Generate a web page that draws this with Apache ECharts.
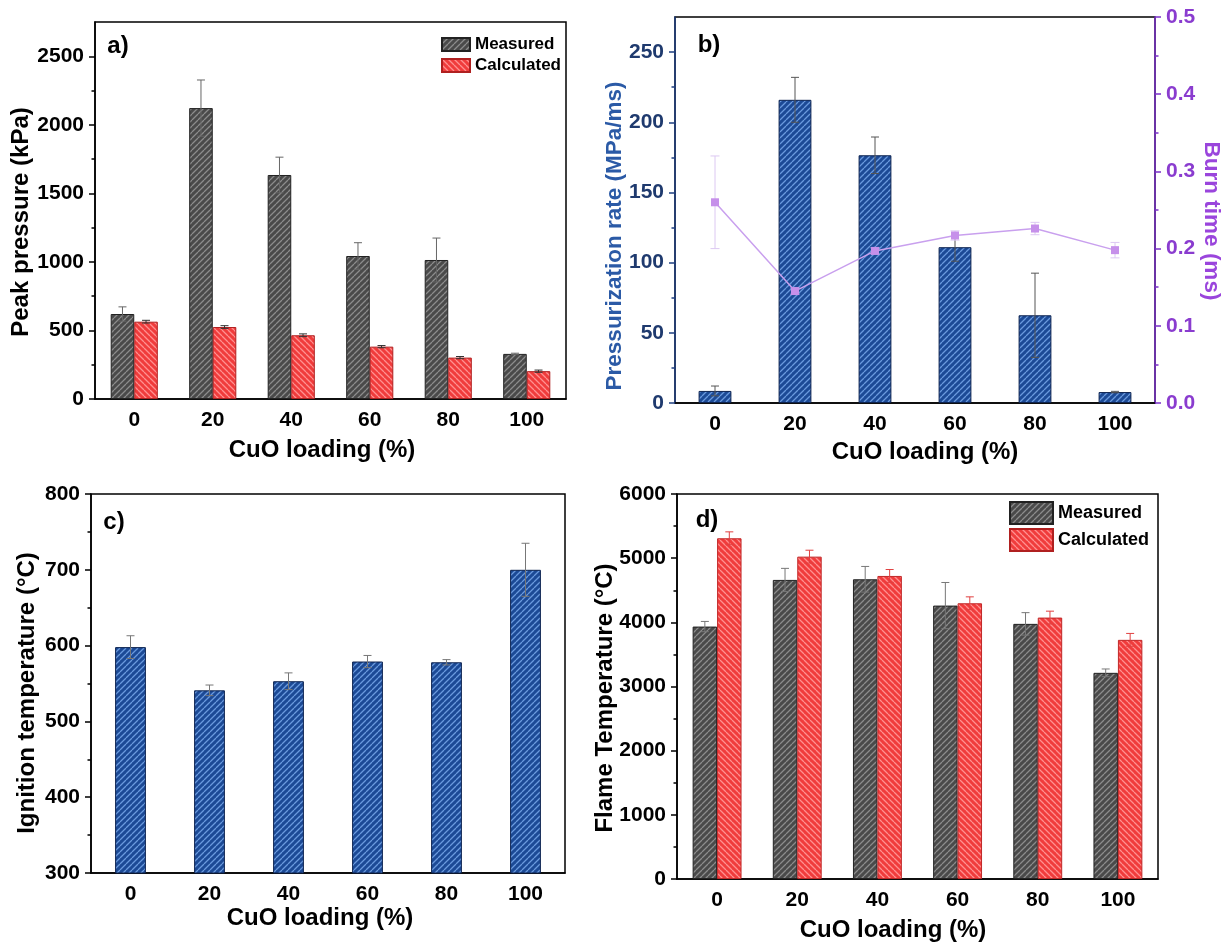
<!DOCTYPE html>
<html><head><meta charset="utf-8">
<script src="https://cdn.jsdelivr.net/npm/echarts@6/dist/echarts.min.js"></script>
<style>html,body{margin:0;padding:0;background:#fff}#c{width:1223px;height:942px}</style>
</head><body><div id="c"></div>
<script>
// ---------- DATA ----------
const categories = ['0', '20', '40', '60', '80', '100'];
const peakMeasured = [620, 2122, 1634, 1043, 1014, 329];
const peakMeasuredErr = [52, 205, 130, 97, 160, 5];
const peakCalculated = [564, 525, 465, 382, 302, 203];
const peakCalculatedErr = [10, 10, 10, 8, 8, 8];
const pressRate = [8.6, 216, 176.5, 111, 62.5, 7.8];
const pressRateErr = [3.5, 16, 13, 10, 30, 0.5];
const burnTime = [0.26, 0.145, 0.197, 0.217, 0.226, 0.198];
const burnTimeErr = [0.06, 0.004, 0.004, 0.006, 0.008, 0.01];
const ignTemp = [598, 541, 553, 579, 578, 700];
const ignTempErr = [15, 7, 11, 8, 3.5, 35];
const flameMeasured = [3934, 4661, 4671, 4261, 3976, 3213];
const flameMeasuredErr = [80, 180, 200, 360, 175, 60];
const flameCalculated = [5310, 5024, 4723, 4297, 4074, 3727];
const flameCalculatedErr = [100, 100, 100, 100, 100, 100];
const peakTicks = [0, 500, 1000, 1500, 2000, 2500];
const peakMinor = [250, 750, 1250, 1750, 2250];
const rateTicks = [0, 50, 100, 150, 200, 250];
const rateMinor = [25, 75, 125, 175, 225];
const burnTicks = [0, 0.1, 0.2, 0.3, 0.4, 0.5];
const burnMinor = [0.05, 0.15, 0.25, 0.35, 0.45];
const ignTicks = [300, 400, 500, 600, 700, 800];
const ignMinor = [350, 450, 550, 650, 750];
const flameTicks = [0, 1000, 2000, 3000, 4000, 5000, 6000];
const flameMinor = [500, 1500, 2500, 3500, 4500, 5500];

// ---------- STYLE HELPERS ----------
const FONT = '"Liberation Sans", Arial, sans-serif';
function hatch(base, line, dir) {
  const s = 6;
  const c = document.createElement('canvas');
  c.width = s; c.height = s;
  const g = c.getContext('2d');
  g.fillStyle = base; g.fillRect(0, 0, s, s);
  g.strokeStyle = line; g.lineWidth = 1.3;
  g.beginPath();
  if (dir > 0) {
    for (let k = -1; k <= 1; k++) { g.moveTo(k * s, s); g.lineTo(k * s + s, 0); }
  } else {
    for (let k = -1; k <= 1; k++) { g.moveTo(k * s, 0); g.lineTo(k * s + s, s); }
  }
  g.stroke();
  return { image: c, repeat: 'repeat' };
}
const patGray = hatch('#4a4a4a', '#8c8c8c', 1);
const patRed = hatch('#f03c3c', '#ff9090', -1);
const patBlue = hatch('#1c4a96', '#6a9ade', 1);

function xAxes(gridIndex) {
  return [
    { type: 'category', gridIndex, data: categories, position: 'bottom',
      axisLine: { lineStyle: { color: '#000', width: 1.5 } },
      axisTick: { alignWithLabel: true, length: 7, lineStyle: { color: '#000', width: 1.5 } },
      axisLabel: { color: '#000', fontSize: 21, fontWeight: 'bold', fontFamily: FONT, margin: 11 },
      splitLine: { show: false } },
    { type: 'category', gridIndex, data: categories, position: 'bottom',
      axisLine: { show: false },
      axisTick: { length: 4, lineStyle: { color: '#000', width: 1.5 } },
      axisLabel: { show: false }, splitLine: { show: false } }
  ];
}
function yAxes(gridIndex, min, max, major, minor, pos, color, labelColor, fmt) {
  return [
    { type: 'value', gridIndex, min, max, position: pos,
      axisLine: { show: true, lineStyle: { color, width: 1.5 } },
      axisTick: { show: true, customValues: major, length: 6, lineStyle: { color, width: 1.5 } },
      axisLabel: { customValues: major, color: labelColor, fontSize: 21, fontWeight: 'bold', fontFamily: FONT, margin: 11,
                   formatter: fmt || (v => String(v)) },
      splitLine: { show: false } },
    { type: 'value', gridIndex, min, max, position: pos,
      axisLine: { show: false },
      axisTick: { show: true, customValues: minor, length: 3.5, lineStyle: { color, width: 1.5 } },
      axisLabel: { show: false }, splitLine: { show: false } }
  ];
}
function errSeries(xAxisIndex, yAxisIndex, vals, errs, off, color, cap) {
  return {
    type: 'custom', xAxisIndex, yAxisIndex, z: 5, silent: true,
    data: vals.map((v, i) => [i, v, errs[i]]),
    renderItem: (params, api) => {
      const i = api.value(0), v = api.value(1), e = api.value(2);
      const band = api.size([1, 0])[0];
      const x = api.coord([i, v])[0] + off * band;
      const yT = api.coord([i, v + e])[1], yB = api.coord([i, v - e])[1];
      const st = { stroke: color, lineWidth: 1 };
      return { type: 'group', children: [
        { type: 'line', shape: { x1: x, y1: yT, x2: x, y2: yB }, style: st },
        { type: 'line', shape: { x1: x - cap / 2, y1: yT, x2: x + cap / 2, y2: yT }, style: st },
        { type: 'line', shape: { x1: x - cap / 2, y1: yB, x2: x + cap / 2, y2: yB }, style: st }
      ] };
    }
  };
}
function gtext(text, x, y, size, color, rot) {
  return { type: 'text', x, y, rotation: rot || 0,
    style: { text, font: 'bold ' + size + 'px ' + FONT, fill: color || '#000', align: 'center', verticalAlign: 'middle' } };
}

const gridStyle = { show: true, borderColor: '#000', borderWidth: 1.5, backgroundColor: 'transparent' };
const option = {
  animation: false,
  backgroundColor: '#fff',
  grid: [
    Object.assign({ left: 95, top: 22, width: 471, height: 377 }, gridStyle),
    Object.assign({ left: 675, top: 17, width: 480, height: 386 }, gridStyle),
    Object.assign({ left: 91, top: 494, width: 474, height: 379 }, gridStyle),
    Object.assign({ left: 677, top: 494, width: 481, height: 385 }, gridStyle)
  ],
  xAxis: [].concat(xAxes(0), xAxes(1), xAxes(2), xAxes(3)),
  yAxis: [].concat(
    yAxes(0, 0, 2750, peakTicks, peakMinor, 'left', '#000', '#000'),
    yAxes(1, 0, 275, rateTicks, rateMinor, 'left', '#1f3f80', '#1f3a6e'),
    yAxes(1, 0, 0.5, burnTicks, burnMinor, 'right', '#7a30c8', '#8a3ccf', v => v.toFixed(1)),
    yAxes(2, 300, 800, ignTicks, ignMinor, 'left', '#000', '#000'),
    yAxes(3, 0, 6000, flameTicks, flameMinor, 'left', '#000', '#000')
  ),
  legend: [
    { data: ['Measured', 'Calculated'], left: 436, top: 31, orient: 'vertical', itemWidth: 28, itemHeight: 13, itemGap: 4,
      textStyle: { fontSize: 17, fontWeight: 'bold', fontFamily: FONT, color: '#000' }, selectedMode: false, icon: 'rect' },
    { data: ['Measured', 'Calculated'], left: 1004, top: 496, orient: 'vertical', itemWidth: 43, itemHeight: 22, itemGap: 3,
      textStyle: { fontSize: 18, fontWeight: 'bold', fontFamily: FONT, color: '#000' }, selectedMode: false, icon: 'rect' }
  ],
  series: [
    { name: 'Measured', type: 'bar', xAxisIndex: 0, yAxisIndex: 0, data: peakMeasured, barGap: '0%', barCategoryGap: '40%',
      itemStyle: { color: patGray, borderColor: '#222', borderWidth: 1 } },
    { name: 'Calculated', type: 'bar', xAxisIndex: 0, yAxisIndex: 0, data: peakCalculated, barGap: '0%', barCategoryGap: '40%',
      itemStyle: { color: patRed, borderColor: '#b02020', borderWidth: 1 } },
    errSeries(0, 0, peakMeasured, peakMeasuredErr, -0.15, '#666', 8),
    errSeries(0, 0, peakCalculated, peakCalculatedErr, 0.15, '#333', 8),

    { name: 'Pressurization rate', type: 'bar', xAxisIndex: 2, yAxisIndex: 2, data: pressRate, barCategoryGap: '59%',
      itemStyle: { color: patBlue, borderColor: '#0d2350', borderWidth: 1 } },
    errSeries(2, 2, pressRate, pressRateErr, 0, '#555', 8),
    errSeries(2, 4, burnTime, burnTimeErr, 0, '#dcc8f2', 9),
    { name: 'Burn time', type: 'line', xAxisIndex: 2, yAxisIndex: 4, data: burnTime, z: 6,
      symbol: 'rect', symbolSize: 8, itemStyle: { color: '#c690ea' }, lineStyle: { color: '#c9a0ee', width: 1.5 } },

    { name: 'Ignition temperature', type: 'bar', xAxisIndex: 4, yAxisIndex: 6, data: ignTemp, barCategoryGap: '61%',
      itemStyle: { color: patBlue, borderColor: '#0d2350', borderWidth: 1 } },
    errSeries(4, 6, ignTemp, ignTempErr, 0, '#777', 8),

    { name: 'Measured', type: 'bar', xAxisIndex: 6, yAxisIndex: 8, data: flameMeasured, barGap: '0%', barCategoryGap: '39%',
      itemStyle: { color: patGray, borderColor: '#222', borderWidth: 1 } },
    { name: 'Calculated', type: 'bar', xAxisIndex: 6, yAxisIndex: 8, data: flameCalculated, barGap: '0%', barCategoryGap: '39%',
      itemStyle: { color: patRed, borderColor: '#c02828', borderWidth: 1 } },
    errSeries(6, 8, flameMeasured, flameMeasuredErr, -0.1525, '#777', 8),
    errSeries(6, 8, flameCalculated, flameCalculatedErr, 0.1525, '#e04040', 8)
  ],
  graphic: [
    gtext('a)', 118, 46, 24),
    gtext('b)', 709, 45, 24),
    gtext('c)', 114, 522, 24),
    gtext('d)', 707, 520, 24),
    gtext('Peak pressure (kPa)', 21, 222, 24, '#000', Math.PI / 2),
    gtext('CuO loading (%)', 322, 450, 24),
    gtext('Pressurization rate (MPa/ms)', 615, 236, 22.5, '#2b5aa6', Math.PI / 2),
    gtext('Burn time (ms)', 1211, 221, 22.5, '#9a45dc', -Math.PI / 2),
    gtext('CuO loading (%)', 925, 452, 24),
    gtext('Ignition temperature (°C)', 27, 693, 24, '#000', Math.PI / 2),
    gtext('CuO loading (%)', 320, 918, 24),
    gtext('Flame Temperature (°C)', 605, 698, 24, '#000', Math.PI / 2),
    gtext('CuO loading (%)', 893, 930, 24)
  ]
};
const chart = echarts.init(document.getElementById('c'), null, { renderer: 'canvas', width: 1223, height: 942 });
chart.setOption(option);
</script>
</body></html>
